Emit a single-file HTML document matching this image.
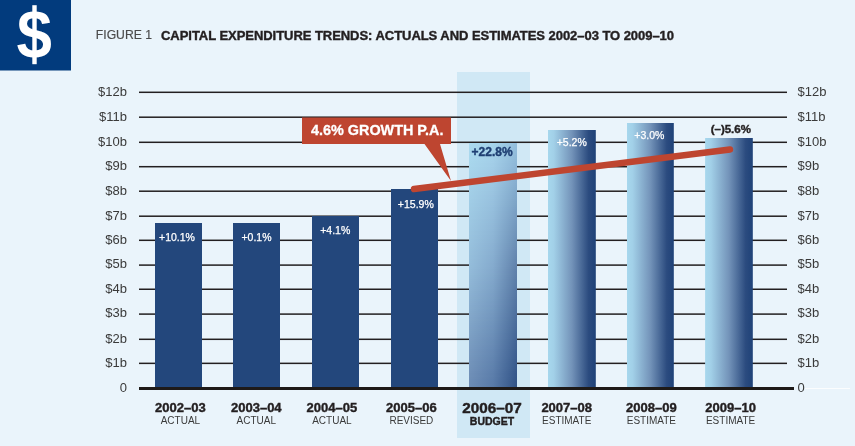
<!DOCTYPE html>
<html><head><meta charset="utf-8"><style>
html,body{margin:0;padding:0;background:#eaf4fb;width:855px;height:446px;overflow:hidden}
svg{display:block;will-change:transform}
text{font-family:"Liberation Sans",sans-serif}
</style></head><body>
<svg width="855" height="446" viewBox="0 0 855 446">
<rect x="0" y="0" width="855" height="446" fill="#eaf4fb"/>
<rect x="0" y="0" width="71" height="70.5" fill="#023b7d"/>
<rect x="457" y="72" width="73" height="366" fill="#d0e8f5"/>
<rect x="139" y="362.60" width="648" height="1.5" fill="#231f20"/>
<rect x="139" y="338.55" width="648" height="1.5" fill="#231f20"/>
<rect x="139" y="313.35" width="648" height="1.5" fill="#231f20"/>
<rect x="139" y="288.50" width="648" height="1.5" fill="#231f20"/>
<rect x="139" y="264.35" width="648" height="1.5" fill="#231f20"/>
<rect x="139" y="239.55" width="648" height="1.5" fill="#231f20"/>
<rect x="139" y="215.45" width="648" height="1.5" fill="#231f20"/>
<rect x="139" y="190.45" width="648" height="1.5" fill="#231f20"/>
<rect x="139" y="165.95" width="648" height="1.5" fill="#231f20"/>
<rect x="139" y="141.55" width="648" height="1.5" fill="#231f20"/>
<rect x="139" y="116.45" width="648" height="1.5" fill="#231f20"/>
<rect x="139" y="91.55" width="648" height="1.5" fill="#231f20"/>
<defs><linearGradient id="gh" x1="0" y1="0" x2="1" y2="0"><stop offset="0" stop-color="#a7d7ed"/><stop offset="0.12" stop-color="#a2d0e8"/><stop offset="0.5" stop-color="#7393b9"/><stop offset="0.85" stop-color="#2b4b7f"/><stop offset="1" stop-color="#1f4278"/></linearGradient><linearGradient id="gd" gradientUnits="userSpaceOnUse" x1="469" y1="150" x2="540" y2="388"><stop offset="0" stop-color="#a8d8ee"/><stop offset="0.45" stop-color="#86aed3"/><stop offset="1" stop-color="#3a5b8e"/></linearGradient></defs>
<rect x="155" y="223" width="47" height="164.5" fill="#23477c"/>
<rect x="233" y="223" width="47" height="164.5" fill="#23477c"/>
<rect x="312" y="216" width="47" height="171.5" fill="#23477c"/>
<rect x="391" y="189" width="47" height="198.5" fill="#23477c"/>
<rect x="548" y="130" width="47.8" height="257.5" fill="url(#gh)"/>
<rect x="627" y="123" width="46.8" height="264.5" fill="url(#gh)"/>
<rect x="705.1" y="138" width="47.7" height="249.5" fill="url(#gh)"/>
<rect x="469.2" y="143" width="47.7" height="2" fill="url(#s5_0)" shape-rendering="crispEdges"/>
<rect x="469.2" y="145" width="47.7" height="2" fill="url(#s5_1)" shape-rendering="crispEdges"/>
<rect x="469.2" y="147" width="47.7" height="2" fill="url(#s5_2)" shape-rendering="crispEdges"/>
<rect x="469.2" y="149" width="47.7" height="2" fill="url(#s5_3)" shape-rendering="crispEdges"/>
<rect x="469.2" y="151" width="47.7" height="2" fill="url(#s5_4)" shape-rendering="crispEdges"/>
<rect x="469.2" y="153" width="47.7" height="2" fill="url(#s5_5)" shape-rendering="crispEdges"/>
<rect x="469.2" y="155" width="47.7" height="2" fill="url(#s5_6)" shape-rendering="crispEdges"/>
<rect x="469.2" y="157" width="47.7" height="2" fill="url(#s5_7)" shape-rendering="crispEdges"/>
<rect x="469.2" y="159" width="47.7" height="2" fill="url(#s5_8)" shape-rendering="crispEdges"/>
<rect x="469.2" y="161" width="47.7" height="2" fill="url(#s5_9)" shape-rendering="crispEdges"/>
<rect x="469.2" y="163" width="47.7" height="2" fill="url(#s5_10)" shape-rendering="crispEdges"/>
<rect x="469.2" y="165" width="47.7" height="2" fill="url(#s5_11)" shape-rendering="crispEdges"/>
<rect x="469.2" y="167" width="47.7" height="2" fill="url(#s5_12)" shape-rendering="crispEdges"/>
<rect x="469.2" y="169" width="47.7" height="2" fill="url(#s5_13)" shape-rendering="crispEdges"/>
<rect x="469.2" y="171" width="47.7" height="2" fill="url(#s5_14)" shape-rendering="crispEdges"/>
<rect x="469.2" y="173" width="47.7" height="2" fill="url(#s5_15)" shape-rendering="crispEdges"/>
<rect x="469.2" y="175" width="47.7" height="2" fill="url(#s5_16)" shape-rendering="crispEdges"/>
<rect x="469.2" y="177" width="47.7" height="2" fill="url(#s5_17)" shape-rendering="crispEdges"/>
<rect x="469.2" y="179" width="47.7" height="2" fill="url(#s5_18)" shape-rendering="crispEdges"/>
<rect x="469.2" y="181" width="47.7" height="2" fill="url(#s5_19)" shape-rendering="crispEdges"/>
<rect x="469.2" y="183" width="47.7" height="2" fill="url(#s5_20)" shape-rendering="crispEdges"/>
<rect x="469.2" y="185" width="47.7" height="2" fill="url(#s5_21)" shape-rendering="crispEdges"/>
<rect x="469.2" y="187" width="47.7" height="2" fill="url(#s5_22)" shape-rendering="crispEdges"/>
<rect x="469.2" y="189" width="47.7" height="2" fill="url(#s5_23)" shape-rendering="crispEdges"/>
<rect x="469.2" y="191" width="47.7" height="2" fill="url(#s5_24)" shape-rendering="crispEdges"/>
<rect x="469.2" y="193" width="47.7" height="2" fill="url(#s5_25)" shape-rendering="crispEdges"/>
<rect x="469.2" y="195" width="47.7" height="2" fill="url(#s5_26)" shape-rendering="crispEdges"/>
<rect x="469.2" y="197" width="47.7" height="2" fill="url(#s5_27)" shape-rendering="crispEdges"/>
<rect x="469.2" y="199" width="47.7" height="2" fill="url(#s5_28)" shape-rendering="crispEdges"/>
<rect x="469.2" y="201" width="47.7" height="2" fill="url(#s5_29)" shape-rendering="crispEdges"/>
<rect x="469.2" y="203" width="47.7" height="2" fill="url(#s5_30)" shape-rendering="crispEdges"/>
<rect x="469.2" y="205" width="47.7" height="2" fill="url(#s5_31)" shape-rendering="crispEdges"/>
<rect x="469.2" y="207" width="47.7" height="2" fill="url(#s5_32)" shape-rendering="crispEdges"/>
<rect x="469.2" y="209" width="47.7" height="2" fill="url(#s5_33)" shape-rendering="crispEdges"/>
<rect x="469.2" y="211" width="47.7" height="2" fill="url(#s5_34)" shape-rendering="crispEdges"/>
<rect x="469.2" y="213" width="47.7" height="2" fill="url(#s5_35)" shape-rendering="crispEdges"/>
<rect x="469.2" y="215" width="47.7" height="2" fill="url(#s5_36)" shape-rendering="crispEdges"/>
<rect x="469.2" y="217" width="47.7" height="2" fill="url(#s5_37)" shape-rendering="crispEdges"/>
<rect x="469.2" y="219" width="47.7" height="2" fill="url(#s5_38)" shape-rendering="crispEdges"/>
<rect x="469.2" y="221" width="47.7" height="2" fill="url(#s5_39)" shape-rendering="crispEdges"/>
<rect x="469.2" y="223" width="47.7" height="2" fill="url(#s5_40)" shape-rendering="crispEdges"/>
<rect x="469.2" y="225" width="47.7" height="2" fill="url(#s5_41)" shape-rendering="crispEdges"/>
<rect x="469.2" y="227" width="47.7" height="2" fill="url(#s5_42)" shape-rendering="crispEdges"/>
<rect x="469.2" y="229" width="47.7" height="2" fill="url(#s5_43)" shape-rendering="crispEdges"/>
<rect x="469.2" y="231" width="47.7" height="2" fill="url(#s5_44)" shape-rendering="crispEdges"/>
<rect x="469.2" y="233" width="47.7" height="2" fill="url(#s5_45)" shape-rendering="crispEdges"/>
<rect x="469.2" y="235" width="47.7" height="2" fill="url(#s5_46)" shape-rendering="crispEdges"/>
<rect x="469.2" y="237" width="47.7" height="2" fill="url(#s5_47)" shape-rendering="crispEdges"/>
<rect x="469.2" y="239" width="47.7" height="2" fill="url(#s5_48)" shape-rendering="crispEdges"/>
<rect x="469.2" y="241" width="47.7" height="2" fill="url(#s5_49)" shape-rendering="crispEdges"/>
<rect x="469.2" y="243" width="47.7" height="2" fill="url(#s5_50)" shape-rendering="crispEdges"/>
<rect x="469.2" y="245" width="47.7" height="2" fill="url(#s5_51)" shape-rendering="crispEdges"/>
<rect x="469.2" y="247" width="47.7" height="2" fill="url(#s5_52)" shape-rendering="crispEdges"/>
<rect x="469.2" y="249" width="47.7" height="2" fill="url(#s5_53)" shape-rendering="crispEdges"/>
<rect x="469.2" y="251" width="47.7" height="2" fill="url(#s5_54)" shape-rendering="crispEdges"/>
<rect x="469.2" y="253" width="47.7" height="2" fill="url(#s5_55)" shape-rendering="crispEdges"/>
<rect x="469.2" y="255" width="47.7" height="2" fill="url(#s5_56)" shape-rendering="crispEdges"/>
<rect x="469.2" y="257" width="47.7" height="2" fill="url(#s5_57)" shape-rendering="crispEdges"/>
<rect x="469.2" y="259" width="47.7" height="2" fill="url(#s5_58)" shape-rendering="crispEdges"/>
<rect x="469.2" y="261" width="47.7" height="2" fill="url(#s5_59)" shape-rendering="crispEdges"/>
<rect x="469.2" y="263" width="47.7" height="2" fill="url(#s5_60)" shape-rendering="crispEdges"/>
<rect x="469.2" y="265" width="47.7" height="2" fill="url(#s5_61)" shape-rendering="crispEdges"/>
<rect x="469.2" y="267" width="47.7" height="2" fill="url(#s5_62)" shape-rendering="crispEdges"/>
<rect x="469.2" y="269" width="47.7" height="2" fill="url(#s5_63)" shape-rendering="crispEdges"/>
<rect x="469.2" y="271" width="47.7" height="2" fill="url(#s5_64)" shape-rendering="crispEdges"/>
<rect x="469.2" y="273" width="47.7" height="2" fill="url(#s5_65)" shape-rendering="crispEdges"/>
<rect x="469.2" y="275" width="47.7" height="2" fill="url(#s5_66)" shape-rendering="crispEdges"/>
<rect x="469.2" y="277" width="47.7" height="2" fill="url(#s5_67)" shape-rendering="crispEdges"/>
<rect x="469.2" y="279" width="47.7" height="2" fill="url(#s5_68)" shape-rendering="crispEdges"/>
<rect x="469.2" y="281" width="47.7" height="2" fill="url(#s5_69)" shape-rendering="crispEdges"/>
<rect x="469.2" y="283" width="47.7" height="2" fill="url(#s5_70)" shape-rendering="crispEdges"/>
<rect x="469.2" y="285" width="47.7" height="2" fill="url(#s5_71)" shape-rendering="crispEdges"/>
<rect x="469.2" y="287" width="47.7" height="2" fill="url(#s5_72)" shape-rendering="crispEdges"/>
<rect x="469.2" y="289" width="47.7" height="2" fill="url(#s5_73)" shape-rendering="crispEdges"/>
<rect x="469.2" y="291" width="47.7" height="2" fill="url(#s5_74)" shape-rendering="crispEdges"/>
<rect x="469.2" y="293" width="47.7" height="2" fill="url(#s5_75)" shape-rendering="crispEdges"/>
<rect x="469.2" y="295" width="47.7" height="2" fill="url(#s5_76)" shape-rendering="crispEdges"/>
<rect x="469.2" y="297" width="47.7" height="2" fill="url(#s5_77)" shape-rendering="crispEdges"/>
<rect x="469.2" y="299" width="47.7" height="2" fill="url(#s5_78)" shape-rendering="crispEdges"/>
<rect x="469.2" y="301" width="47.7" height="2" fill="url(#s5_79)" shape-rendering="crispEdges"/>
<rect x="469.2" y="303" width="47.7" height="2" fill="url(#s5_80)" shape-rendering="crispEdges"/>
<rect x="469.2" y="305" width="47.7" height="2" fill="url(#s5_81)" shape-rendering="crispEdges"/>
<rect x="469.2" y="307" width="47.7" height="2" fill="url(#s5_82)" shape-rendering="crispEdges"/>
<rect x="469.2" y="309" width="47.7" height="2" fill="url(#s5_83)" shape-rendering="crispEdges"/>
<rect x="469.2" y="311" width="47.7" height="2" fill="url(#s5_84)" shape-rendering="crispEdges"/>
<rect x="469.2" y="313" width="47.7" height="2" fill="url(#s5_85)" shape-rendering="crispEdges"/>
<rect x="469.2" y="315" width="47.7" height="2" fill="url(#s5_86)" shape-rendering="crispEdges"/>
<rect x="469.2" y="317" width="47.7" height="2" fill="url(#s5_87)" shape-rendering="crispEdges"/>
<rect x="469.2" y="319" width="47.7" height="2" fill="url(#s5_88)" shape-rendering="crispEdges"/>
<rect x="469.2" y="321" width="47.7" height="2" fill="url(#s5_89)" shape-rendering="crispEdges"/>
<rect x="469.2" y="323" width="47.7" height="2" fill="url(#s5_90)" shape-rendering="crispEdges"/>
<rect x="469.2" y="325" width="47.7" height="2" fill="url(#s5_91)" shape-rendering="crispEdges"/>
<rect x="469.2" y="327" width="47.7" height="2" fill="url(#s5_92)" shape-rendering="crispEdges"/>
<rect x="469.2" y="329" width="47.7" height="2" fill="url(#s5_93)" shape-rendering="crispEdges"/>
<rect x="469.2" y="331" width="47.7" height="2" fill="url(#s5_94)" shape-rendering="crispEdges"/>
<rect x="469.2" y="333" width="47.7" height="2" fill="url(#s5_95)" shape-rendering="crispEdges"/>
<rect x="469.2" y="335" width="47.7" height="2" fill="url(#s5_96)" shape-rendering="crispEdges"/>
<rect x="469.2" y="337" width="47.7" height="2" fill="url(#s5_97)" shape-rendering="crispEdges"/>
<rect x="469.2" y="339" width="47.7" height="2" fill="url(#s5_98)" shape-rendering="crispEdges"/>
<rect x="469.2" y="341" width="47.7" height="2" fill="url(#s5_99)" shape-rendering="crispEdges"/>
<rect x="469.2" y="343" width="47.7" height="2" fill="url(#s5_100)" shape-rendering="crispEdges"/>
<rect x="469.2" y="345" width="47.7" height="2" fill="url(#s5_101)" shape-rendering="crispEdges"/>
<rect x="469.2" y="347" width="47.7" height="2" fill="url(#s5_102)" shape-rendering="crispEdges"/>
<rect x="469.2" y="349" width="47.7" height="2" fill="url(#s5_103)" shape-rendering="crispEdges"/>
<rect x="469.2" y="351" width="47.7" height="2" fill="url(#s5_104)" shape-rendering="crispEdges"/>
<rect x="469.2" y="353" width="47.7" height="2" fill="url(#s5_105)" shape-rendering="crispEdges"/>
<rect x="469.2" y="355" width="47.7" height="2" fill="url(#s5_106)" shape-rendering="crispEdges"/>
<rect x="469.2" y="357" width="47.7" height="2" fill="url(#s5_107)" shape-rendering="crispEdges"/>
<rect x="469.2" y="359" width="47.7" height="2" fill="url(#s5_108)" shape-rendering="crispEdges"/>
<rect x="469.2" y="361" width="47.7" height="2" fill="url(#s5_109)" shape-rendering="crispEdges"/>
<rect x="469.2" y="363" width="47.7" height="2" fill="url(#s5_110)" shape-rendering="crispEdges"/>
<rect x="469.2" y="365" width="47.7" height="2" fill="url(#s5_111)" shape-rendering="crispEdges"/>
<rect x="469.2" y="367" width="47.7" height="2" fill="url(#s5_112)" shape-rendering="crispEdges"/>
<rect x="469.2" y="369" width="47.7" height="2" fill="url(#s5_113)" shape-rendering="crispEdges"/>
<rect x="469.2" y="371" width="47.7" height="2" fill="url(#s5_114)" shape-rendering="crispEdges"/>
<rect x="469.2" y="373" width="47.7" height="2" fill="url(#s5_115)" shape-rendering="crispEdges"/>
<rect x="469.2" y="375" width="47.7" height="2" fill="url(#s5_116)" shape-rendering="crispEdges"/>
<rect x="469.2" y="377" width="47.7" height="2" fill="url(#s5_117)" shape-rendering="crispEdges"/>
<rect x="469.2" y="379" width="47.7" height="2" fill="url(#s5_118)" shape-rendering="crispEdges"/>
<rect x="469.2" y="381" width="47.7" height="2" fill="url(#s5_119)" shape-rendering="crispEdges"/>
<rect x="469.2" y="383" width="47.7" height="2" fill="url(#s5_120)" shape-rendering="crispEdges"/>
<rect x="469.2" y="385" width="47.7" height="2" fill="url(#s5_121)" shape-rendering="crispEdges"/>
<rect x="469.2" y="387" width="47.7" height="2" fill="url(#s5_122)" shape-rendering="crispEdges"/>
<defs><linearGradient id="s5_0" x1="0" y1="0" x2="1" y2="0"><stop offset="0" stop-color="#abdaef"/><stop offset="0.5" stop-color="#a6d4eb"/><stop offset="1" stop-color="#93bedc"/></linearGradient><linearGradient id="s5_1" x1="0" y1="0" x2="1" y2="0"><stop offset="0" stop-color="#abd9ef"/><stop offset="0.5" stop-color="#a5d3ea"/><stop offset="1" stop-color="#92bddb"/></linearGradient><linearGradient id="s5_2" x1="0" y1="0" x2="1" y2="0"><stop offset="0" stop-color="#aad9ee"/><stop offset="0.5" stop-color="#a5d2ea"/><stop offset="1" stop-color="#91bcdb"/></linearGradient><linearGradient id="s5_3" x1="0" y1="0" x2="1" y2="0"><stop offset="0" stop-color="#aad9ee"/><stop offset="0.5" stop-color="#a5d2ea"/><stop offset="1" stop-color="#91bbda"/></linearGradient><linearGradient id="s5_4" x1="0" y1="0" x2="1" y2="0"><stop offset="0" stop-color="#aad8ee"/><stop offset="0.5" stop-color="#a4d1e9"/><stop offset="1" stop-color="#90bbda"/></linearGradient><linearGradient id="s5_5" x1="0" y1="0" x2="1" y2="0"><stop offset="0" stop-color="#aad8ee"/><stop offset="0.5" stop-color="#a4d0e9"/><stop offset="1" stop-color="#90bad9"/></linearGradient><linearGradient id="s5_6" x1="0" y1="0" x2="1" y2="0"><stop offset="0" stop-color="#a9d8ed"/><stop offset="0.5" stop-color="#a4d0e9"/><stop offset="1" stop-color="#8fb9d8"/></linearGradient><linearGradient id="s5_7" x1="0" y1="0" x2="1" y2="0"><stop offset="0" stop-color="#a9d7ed"/><stop offset="0.5" stop-color="#a3cfe8"/><stop offset="1" stop-color="#8eb9d8"/></linearGradient><linearGradient id="s5_8" x1="0" y1="0" x2="1" y2="0"><stop offset="0" stop-color="#a9d7ed"/><stop offset="0.5" stop-color="#a3cfe8"/><stop offset="1" stop-color="#8eb8d7"/></linearGradient><linearGradient id="s5_9" x1="0" y1="0" x2="1" y2="0"><stop offset="0" stop-color="#a8d7ec"/><stop offset="0.5" stop-color="#a3cee8"/><stop offset="1" stop-color="#8db7d7"/></linearGradient><linearGradient id="s5_10" x1="0" y1="0" x2="1" y2="0"><stop offset="0" stop-color="#a8d6ec"/><stop offset="0.5" stop-color="#a2cde7"/><stop offset="1" stop-color="#8cb6d6"/></linearGradient><linearGradient id="s5_11" x1="0" y1="0" x2="1" y2="0"><stop offset="0" stop-color="#a8d6ec"/><stop offset="0.5" stop-color="#a2cde7"/><stop offset="1" stop-color="#8cb5d6"/></linearGradient><linearGradient id="s5_12" x1="0" y1="0" x2="1" y2="0"><stop offset="0" stop-color="#a7d5eb"/><stop offset="0.5" stop-color="#a1cce6"/><stop offset="1" stop-color="#8bb4d5"/></linearGradient><linearGradient id="s5_13" x1="0" y1="0" x2="1" y2="0"><stop offset="0" stop-color="#a7d5eb"/><stop offset="0.5" stop-color="#a1cbe6"/><stop offset="1" stop-color="#8ab3d4"/></linearGradient><linearGradient id="s5_14" x1="0" y1="0" x2="1" y2="0"><stop offset="0" stop-color="#a7d4eb"/><stop offset="0.5" stop-color="#a0cbe5"/><stop offset="1" stop-color="#89b2d3"/></linearGradient><linearGradient id="s5_15" x1="0" y1="0" x2="1" y2="0"><stop offset="0" stop-color="#a6d4ea"/><stop offset="0.5" stop-color="#9fcae5"/><stop offset="1" stop-color="#88b1d2"/></linearGradient><linearGradient id="s5_16" x1="0" y1="0" x2="1" y2="0"><stop offset="0" stop-color="#a6d3ea"/><stop offset="0.5" stop-color="#9fc9e4"/><stop offset="1" stop-color="#87b0d1"/></linearGradient><linearGradient id="s5_17" x1="0" y1="0" x2="1" y2="0"><stop offset="0" stop-color="#a5d3ea"/><stop offset="0.5" stop-color="#9ec9e4"/><stop offset="1" stop-color="#86afd0"/></linearGradient><linearGradient id="s5_18" x1="0" y1="0" x2="1" y2="0"><stop offset="0" stop-color="#a5d2e9"/><stop offset="0.5" stop-color="#9ec8e3"/><stop offset="1" stop-color="#85aed0"/></linearGradient><linearGradient id="s5_19" x1="0" y1="0" x2="1" y2="0"><stop offset="0" stop-color="#a5d2e9"/><stop offset="0.5" stop-color="#9dc7e3"/><stop offset="1" stop-color="#85adcf"/></linearGradient><linearGradient id="s5_20" x1="0" y1="0" x2="1" y2="0"><stop offset="0" stop-color="#a4d1e9"/><stop offset="0.5" stop-color="#9cc7e2"/><stop offset="1" stop-color="#84acce"/></linearGradient><linearGradient id="s5_21" x1="0" y1="0" x2="1" y2="0"><stop offset="0" stop-color="#a4d1e8"/><stop offset="0.5" stop-color="#9cc6e2"/><stop offset="1" stop-color="#83abcd"/></linearGradient><linearGradient id="s5_22" x1="0" y1="0" x2="1" y2="0"><stop offset="0" stop-color="#a4d0e8"/><stop offset="0.5" stop-color="#9bc5e1"/><stop offset="1" stop-color="#82aacc"/></linearGradient><linearGradient id="s5_23" x1="0" y1="0" x2="1" y2="0"><stop offset="0" stop-color="#a3d0e8"/><stop offset="0.5" stop-color="#9bc5e1"/><stop offset="1" stop-color="#81a9cb"/></linearGradient><linearGradient id="s5_24" x1="0" y1="0" x2="1" y2="0"><stop offset="0" stop-color="#a3cfe7"/><stop offset="0.5" stop-color="#9ac4e0"/><stop offset="1" stop-color="#80a8ca"/></linearGradient><linearGradient id="s5_25" x1="0" y1="0" x2="1" y2="0"><stop offset="0" stop-color="#a2cfe7"/><stop offset="0.5" stop-color="#9ac3e0"/><stop offset="1" stop-color="#7fa7ca"/></linearGradient><linearGradient id="s5_26" x1="0" y1="0" x2="1" y2="0"><stop offset="0" stop-color="#a2cee7"/><stop offset="0.5" stop-color="#99c2df"/><stop offset="1" stop-color="#7ea6c9"/></linearGradient><linearGradient id="s5_27" x1="0" y1="0" x2="1" y2="0"><stop offset="0" stop-color="#a2cee6"/><stop offset="0.5" stop-color="#98c2df"/><stop offset="1" stop-color="#7ea5c8"/></linearGradient><linearGradient id="s5_28" x1="0" y1="0" x2="1" y2="0"><stop offset="0" stop-color="#a1cde6"/><stop offset="0.5" stop-color="#98c1de"/><stop offset="1" stop-color="#7da4c7"/></linearGradient><linearGradient id="s5_29" x1="0" y1="0" x2="1" y2="0"><stop offset="0" stop-color="#a1cde6"/><stop offset="0.5" stop-color="#97c0de"/><stop offset="1" stop-color="#7ca3c6"/></linearGradient><linearGradient id="s5_30" x1="0" y1="0" x2="1" y2="0"><stop offset="0" stop-color="#a0cce5"/><stop offset="0.5" stop-color="#97c0dd"/><stop offset="1" stop-color="#7ba2c5"/></linearGradient><linearGradient id="s5_31" x1="0" y1="0" x2="1" y2="0"><stop offset="0" stop-color="#a0cce5"/><stop offset="0.5" stop-color="#96bfdd"/><stop offset="1" stop-color="#7aa1c4"/></linearGradient><linearGradient id="s5_32" x1="0" y1="0" x2="1" y2="0"><stop offset="0" stop-color="#a0cbe4"/><stop offset="0.5" stop-color="#95bedc"/><stop offset="1" stop-color="#799fc4"/></linearGradient><linearGradient id="s5_33" x1="0" y1="0" x2="1" y2="0"><stop offset="0" stop-color="#9fcbe4"/><stop offset="0.5" stop-color="#95bedc"/><stop offset="1" stop-color="#789ec3"/></linearGradient><linearGradient id="s5_34" x1="0" y1="0" x2="1" y2="0"><stop offset="0" stop-color="#9fcae4"/><stop offset="0.5" stop-color="#94bddb"/><stop offset="1" stop-color="#779dc2"/></linearGradient><linearGradient id="s5_35" x1="0" y1="0" x2="1" y2="0"><stop offset="0" stop-color="#9ecae3"/><stop offset="0.5" stop-color="#94bcdb"/><stop offset="1" stop-color="#779cc1"/></linearGradient><linearGradient id="s5_36" x1="0" y1="0" x2="1" y2="0"><stop offset="0" stop-color="#9ec9e3"/><stop offset="0.5" stop-color="#93bcda"/><stop offset="1" stop-color="#769bc0"/></linearGradient><linearGradient id="s5_37" x1="0" y1="0" x2="1" y2="0"><stop offset="0" stop-color="#9ec9e3"/><stop offset="0.5" stop-color="#93bbda"/><stop offset="1" stop-color="#759abf"/></linearGradient><linearGradient id="s5_38" x1="0" y1="0" x2="1" y2="0"><stop offset="0" stop-color="#9dc8e2"/><stop offset="0.5" stop-color="#92bad9"/><stop offset="1" stop-color="#7499bf"/></linearGradient><linearGradient id="s5_39" x1="0" y1="0" x2="1" y2="0"><stop offset="0" stop-color="#9dc8e2"/><stop offset="0.5" stop-color="#91bad9"/><stop offset="1" stop-color="#7398be"/></linearGradient><linearGradient id="s5_40" x1="0" y1="0" x2="1" y2="0"><stop offset="0" stop-color="#9dc7e2"/><stop offset="0.5" stop-color="#91b9d8"/><stop offset="1" stop-color="#7297bd"/></linearGradient><linearGradient id="s5_41" x1="0" y1="0" x2="1" y2="0"><stop offset="0" stop-color="#9cc7e1"/><stop offset="0.5" stop-color="#90b8d8"/><stop offset="1" stop-color="#7196bc"/></linearGradient><linearGradient id="s5_42" x1="0" y1="0" x2="1" y2="0"><stop offset="0" stop-color="#9cc6e1"/><stop offset="0.5" stop-color="#90b8d7"/><stop offset="1" stop-color="#7095bb"/></linearGradient><linearGradient id="s5_43" x1="0" y1="0" x2="1" y2="0"><stop offset="0" stop-color="#9bc6e1"/><stop offset="0.5" stop-color="#8fb7d7"/><stop offset="1" stop-color="#7094ba"/></linearGradient><linearGradient id="s5_44" x1="0" y1="0" x2="1" y2="0"><stop offset="0" stop-color="#9bc5e0"/><stop offset="0.5" stop-color="#8eb6d6"/><stop offset="1" stop-color="#6f93b9"/></linearGradient><linearGradient id="s5_45" x1="0" y1="0" x2="1" y2="0"><stop offset="0" stop-color="#9bc5e0"/><stop offset="0.5" stop-color="#8eb6d6"/><stop offset="1" stop-color="#6e92b9"/></linearGradient><linearGradient id="s5_46" x1="0" y1="0" x2="1" y2="0"><stop offset="0" stop-color="#9ac4e0"/><stop offset="0.5" stop-color="#8db5d5"/><stop offset="1" stop-color="#6d91b8"/></linearGradient><linearGradient id="s5_47" x1="0" y1="0" x2="1" y2="0"><stop offset="0" stop-color="#9ac4df"/><stop offset="0.5" stop-color="#8db4d5"/><stop offset="1" stop-color="#6c90b7"/></linearGradient><linearGradient id="s5_48" x1="0" y1="0" x2="1" y2="0"><stop offset="0" stop-color="#99c3df"/><stop offset="0.5" stop-color="#8cb4d4"/><stop offset="1" stop-color="#6b8fb6"/></linearGradient><linearGradient id="s5_49" x1="0" y1="0" x2="1" y2="0"><stop offset="0" stop-color="#99c3df"/><stop offset="0.5" stop-color="#8cb3d4"/><stop offset="1" stop-color="#6a8eb5"/></linearGradient><linearGradient id="s5_50" x1="0" y1="0" x2="1" y2="0"><stop offset="0" stop-color="#99c2de"/><stop offset="0.5" stop-color="#8bb2d3"/><stop offset="1" stop-color="#698db4"/></linearGradient><linearGradient id="s5_51" x1="0" y1="0" x2="1" y2="0"><stop offset="0" stop-color="#98c2de"/><stop offset="0.5" stop-color="#8ab1d3"/><stop offset="1" stop-color="#698cb3"/></linearGradient><linearGradient id="s5_52" x1="0" y1="0" x2="1" y2="0"><stop offset="0" stop-color="#98c1dd"/><stop offset="0.5" stop-color="#8ab1d2"/><stop offset="1" stop-color="#688ab3"/></linearGradient><linearGradient id="s5_53" x1="0" y1="0" x2="1" y2="0"><stop offset="0" stop-color="#97c1dd"/><stop offset="0.5" stop-color="#89b0d2"/><stop offset="1" stop-color="#6789b2"/></linearGradient><linearGradient id="s5_54" x1="0" y1="0" x2="1" y2="0"><stop offset="0" stop-color="#97c0dd"/><stop offset="0.5" stop-color="#89afd1"/><stop offset="1" stop-color="#6688b1"/></linearGradient><linearGradient id="s5_55" x1="0" y1="0" x2="1" y2="0"><stop offset="0" stop-color="#97c0dc"/><stop offset="0.5" stop-color="#88afd1"/><stop offset="1" stop-color="#6587b0"/></linearGradient><linearGradient id="s5_56" x1="0" y1="0" x2="1" y2="0"><stop offset="0" stop-color="#96bfdc"/><stop offset="0.5" stop-color="#87aed0"/><stop offset="1" stop-color="#6486af"/></linearGradient><linearGradient id="s5_57" x1="0" y1="0" x2="1" y2="0"><stop offset="0" stop-color="#96bfdc"/><stop offset="0.5" stop-color="#87add0"/><stop offset="1" stop-color="#6385ae"/></linearGradient><linearGradient id="s5_58" x1="0" y1="0" x2="1" y2="0"><stop offset="0" stop-color="#96bedb"/><stop offset="0.5" stop-color="#86adcf"/><stop offset="1" stop-color="#6284ad"/></linearGradient><linearGradient id="s5_59" x1="0" y1="0" x2="1" y2="0"><stop offset="0" stop-color="#95bedb"/><stop offset="0.5" stop-color="#86accf"/><stop offset="1" stop-color="#6283ad"/></linearGradient><linearGradient id="s5_60" x1="0" y1="0" x2="1" y2="0"><stop offset="0" stop-color="#95bddb"/><stop offset="0.5" stop-color="#85abce"/><stop offset="1" stop-color="#6182ac"/></linearGradient><linearGradient id="s5_61" x1="0" y1="0" x2="1" y2="0"><stop offset="0" stop-color="#94bdda"/><stop offset="0.5" stop-color="#85abce"/><stop offset="1" stop-color="#6081ab"/></linearGradient><linearGradient id="s5_62" x1="0" y1="0" x2="1" y2="0"><stop offset="0" stop-color="#94bcda"/><stop offset="0.5" stop-color="#84aacd"/><stop offset="1" stop-color="#5f80aa"/></linearGradient><linearGradient id="s5_63" x1="0" y1="0" x2="1" y2="0"><stop offset="0" stop-color="#93bbd9"/><stop offset="0.5" stop-color="#83a9cc"/><stop offset="1" stop-color="#5e7fa9"/></linearGradient><linearGradient id="s5_64" x1="0" y1="0" x2="1" y2="0"><stop offset="0" stop-color="#93bad9"/><stop offset="0.5" stop-color="#83a8cc"/><stop offset="1" stop-color="#5d7ea9"/></linearGradient><linearGradient id="s5_65" x1="0" y1="0" x2="1" y2="0"><stop offset="0" stop-color="#92bad8"/><stop offset="0.5" stop-color="#82a8cb"/><stop offset="1" stop-color="#5d7ea8"/></linearGradient><linearGradient id="s5_66" x1="0" y1="0" x2="1" y2="0"><stop offset="0" stop-color="#91b9d7"/><stop offset="0.5" stop-color="#81a7ca"/><stop offset="1" stop-color="#5c7da8"/></linearGradient><linearGradient id="s5_67" x1="0" y1="0" x2="1" y2="0"><stop offset="0" stop-color="#91b8d7"/><stop offset="0.5" stop-color="#80a6ca"/><stop offset="1" stop-color="#5b7ca7"/></linearGradient><linearGradient id="s5_68" x1="0" y1="0" x2="1" y2="0"><stop offset="0" stop-color="#90b7d6"/><stop offset="0.5" stop-color="#80a5c9"/><stop offset="1" stop-color="#5a7ba6"/></linearGradient><linearGradient id="s5_69" x1="0" y1="0" x2="1" y2="0"><stop offset="0" stop-color="#8fb6d6"/><stop offset="0.5" stop-color="#7fa4c9"/><stop offset="1" stop-color="#597ba6"/></linearGradient><linearGradient id="s5_70" x1="0" y1="0" x2="1" y2="0"><stop offset="0" stop-color="#8fb5d5"/><stop offset="0.5" stop-color="#7ea3c8"/><stop offset="1" stop-color="#597aa5"/></linearGradient><linearGradient id="s5_71" x1="0" y1="0" x2="1" y2="0"><stop offset="0" stop-color="#8eb5d4"/><stop offset="0.5" stop-color="#7da3c7"/><stop offset="1" stop-color="#5879a5"/></linearGradient><linearGradient id="s5_72" x1="0" y1="0" x2="1" y2="0"><stop offset="0" stop-color="#8db4d4"/><stop offset="0.5" stop-color="#7da2c7"/><stop offset="1" stop-color="#5778a4"/></linearGradient><linearGradient id="s5_73" x1="0" y1="0" x2="1" y2="0"><stop offset="0" stop-color="#8db3d3"/><stop offset="0.5" stop-color="#7ca1c6"/><stop offset="1" stop-color="#5677a3"/></linearGradient><linearGradient id="s5_74" x1="0" y1="0" x2="1" y2="0"><stop offset="0" stop-color="#8cb2d2"/><stop offset="0.5" stop-color="#7ba0c5"/><stop offset="1" stop-color="#5577a3"/></linearGradient><linearGradient id="s5_75" x1="0" y1="0" x2="1" y2="0"><stop offset="0" stop-color="#8bb1d2"/><stop offset="0.5" stop-color="#7a9fc5"/><stop offset="1" stop-color="#5576a2"/></linearGradient><linearGradient id="s5_76" x1="0" y1="0" x2="1" y2="0"><stop offset="0" stop-color="#8bb0d1"/><stop offset="0.5" stop-color="#7a9ec4"/><stop offset="1" stop-color="#5475a2"/></linearGradient><linearGradient id="s5_77" x1="0" y1="0" x2="1" y2="0"><stop offset="0" stop-color="#8ab0d0"/><stop offset="0.5" stop-color="#799ec3"/><stop offset="1" stop-color="#5374a1"/></linearGradient><linearGradient id="s5_78" x1="0" y1="0" x2="1" y2="0"><stop offset="0" stop-color="#89afd0"/><stop offset="0.5" stop-color="#789dc3"/><stop offset="1" stop-color="#5273a0"/></linearGradient><linearGradient id="s5_79" x1="0" y1="0" x2="1" y2="0"><stop offset="0" stop-color="#89aecf"/><stop offset="0.5" stop-color="#779cc2"/><stop offset="1" stop-color="#5173a0"/></linearGradient><linearGradient id="s5_80" x1="0" y1="0" x2="1" y2="0"><stop offset="0" stop-color="#88adcf"/><stop offset="0.5" stop-color="#779bc2"/><stop offset="1" stop-color="#51729f"/></linearGradient><linearGradient id="s5_81" x1="0" y1="0" x2="1" y2="0"><stop offset="0" stop-color="#87acce"/><stop offset="0.5" stop-color="#769ac1"/><stop offset="1" stop-color="#50719f"/></linearGradient><linearGradient id="s5_82" x1="0" y1="0" x2="1" y2="0"><stop offset="0" stop-color="#87accd"/><stop offset="0.5" stop-color="#759ac0"/><stop offset="1" stop-color="#4f709e"/></linearGradient><linearGradient id="s5_83" x1="0" y1="0" x2="1" y2="0"><stop offset="0" stop-color="#86abcd"/><stop offset="0.5" stop-color="#7499c0"/><stop offset="1" stop-color="#4e709d"/></linearGradient><linearGradient id="s5_84" x1="0" y1="0" x2="1" y2="0"><stop offset="0" stop-color="#85aacc"/><stop offset="0.5" stop-color="#7498bf"/><stop offset="1" stop-color="#4d6f9d"/></linearGradient><linearGradient id="s5_85" x1="0" y1="0" x2="1" y2="0"><stop offset="0" stop-color="#85a9cb"/><stop offset="0.5" stop-color="#7397be"/><stop offset="1" stop-color="#4d6e9c"/></linearGradient><linearGradient id="s5_86" x1="0" y1="0" x2="1" y2="0"><stop offset="0" stop-color="#84a8cb"/><stop offset="0.5" stop-color="#7296be"/><stop offset="1" stop-color="#4c6d9c"/></linearGradient><linearGradient id="s5_87" x1="0" y1="0" x2="1" y2="0"><stop offset="0" stop-color="#83a7ca"/><stop offset="0.5" stop-color="#7195bd"/><stop offset="1" stop-color="#4b6c9b"/></linearGradient><linearGradient id="s5_88" x1="0" y1="0" x2="1" y2="0"><stop offset="0" stop-color="#83a7c9"/><stop offset="0.5" stop-color="#7195bc"/><stop offset="1" stop-color="#4a6c9a"/></linearGradient><linearGradient id="s5_89" x1="0" y1="0" x2="1" y2="0"><stop offset="0" stop-color="#82a6c9"/><stop offset="0.5" stop-color="#7094bc"/><stop offset="1" stop-color="#496b9a"/></linearGradient><linearGradient id="s5_90" x1="0" y1="0" x2="1" y2="0"><stop offset="0" stop-color="#81a5c8"/><stop offset="0.5" stop-color="#6f93bb"/><stop offset="1" stop-color="#486a99"/></linearGradient><linearGradient id="s5_91" x1="0" y1="0" x2="1" y2="0"><stop offset="0" stop-color="#80a4c8"/><stop offset="0.5" stop-color="#6e92bb"/><stop offset="1" stop-color="#486999"/></linearGradient><linearGradient id="s5_92" x1="0" y1="0" x2="1" y2="0"><stop offset="0" stop-color="#80a3c7"/><stop offset="0.5" stop-color="#6e91ba"/><stop offset="1" stop-color="#476898"/></linearGradient><linearGradient id="s5_93" x1="0" y1="0" x2="1" y2="0"><stop offset="0" stop-color="#7fa3c6"/><stop offset="0.5" stop-color="#6d91b9"/><stop offset="1" stop-color="#466897"/></linearGradient><linearGradient id="s5_94" x1="0" y1="0" x2="1" y2="0"><stop offset="0" stop-color="#7ea2c6"/><stop offset="0.5" stop-color="#6c90b9"/><stop offset="1" stop-color="#456797"/></linearGradient><linearGradient id="s5_95" x1="0" y1="0" x2="1" y2="0"><stop offset="0" stop-color="#7ea1c5"/><stop offset="0.5" stop-color="#6b8fb8"/><stop offset="1" stop-color="#446696"/></linearGradient><linearGradient id="s5_96" x1="0" y1="0" x2="1" y2="0"><stop offset="0" stop-color="#7da0c4"/><stop offset="0.5" stop-color="#6b8eb7"/><stop offset="1" stop-color="#446596"/></linearGradient><linearGradient id="s5_97" x1="0" y1="0" x2="1" y2="0"><stop offset="0" stop-color="#7c9fc4"/><stop offset="0.5" stop-color="#6a8db7"/><stop offset="1" stop-color="#436595"/></linearGradient><linearGradient id="s5_98" x1="0" y1="0" x2="1" y2="0"><stop offset="0" stop-color="#7c9ec3"/><stop offset="0.5" stop-color="#698cb6"/><stop offset="1" stop-color="#426494"/></linearGradient><linearGradient id="s5_99" x1="0" y1="0" x2="1" y2="0"><stop offset="0" stop-color="#7b9ec2"/><stop offset="0.5" stop-color="#688cb5"/><stop offset="1" stop-color="#416394"/></linearGradient><linearGradient id="s5_100" x1="0" y1="0" x2="1" y2="0"><stop offset="0" stop-color="#7a9dc2"/><stop offset="0.5" stop-color="#688bb5"/><stop offset="1" stop-color="#406293"/></linearGradient><linearGradient id="s5_101" x1="0" y1="0" x2="1" y2="0"><stop offset="0" stop-color="#7a9cc1"/><stop offset="0.5" stop-color="#678ab4"/><stop offset="1" stop-color="#406193"/></linearGradient><linearGradient id="s5_102" x1="0" y1="0" x2="1" y2="0"><stop offset="0" stop-color="#799bc1"/><stop offset="0.5" stop-color="#6689b4"/><stop offset="1" stop-color="#3f6192"/></linearGradient><linearGradient id="s5_103" x1="0" y1="0" x2="1" y2="0"><stop offset="0" stop-color="#789ac0"/><stop offset="0.5" stop-color="#6588b3"/><stop offset="1" stop-color="#3e6091"/></linearGradient><linearGradient id="s5_104" x1="0" y1="0" x2="1" y2="0"><stop offset="0" stop-color="#7899bf"/><stop offset="0.5" stop-color="#6587b2"/><stop offset="1" stop-color="#3d5f91"/></linearGradient><linearGradient id="s5_105" x1="0" y1="0" x2="1" y2="0"><stop offset="0" stop-color="#7799bf"/><stop offset="0.5" stop-color="#6487b2"/><stop offset="1" stop-color="#3c5e90"/></linearGradient><linearGradient id="s5_106" x1="0" y1="0" x2="1" y2="0"><stop offset="0" stop-color="#7698be"/><stop offset="0.5" stop-color="#6386b1"/><stop offset="1" stop-color="#3c5d90"/></linearGradient><linearGradient id="s5_107" x1="0" y1="0" x2="1" y2="0"><stop offset="0" stop-color="#7697bd"/><stop offset="0.5" stop-color="#6285b0"/><stop offset="1" stop-color="#3b5d8f"/></linearGradient><linearGradient id="s5_108" x1="0" y1="0" x2="1" y2="0"><stop offset="0" stop-color="#7596bd"/><stop offset="0.5" stop-color="#6284b0"/><stop offset="1" stop-color="#3a5c8e"/></linearGradient><linearGradient id="s5_109" x1="0" y1="0" x2="1" y2="0"><stop offset="0" stop-color="#7495bc"/><stop offset="0.5" stop-color="#6183af"/><stop offset="1" stop-color="#395b8e"/></linearGradient><linearGradient id="s5_110" x1="0" y1="0" x2="1" y2="0"><stop offset="0" stop-color="#7495bb"/><stop offset="0.5" stop-color="#6083ae"/><stop offset="1" stop-color="#385a8d"/></linearGradient><linearGradient id="s5_111" x1="0" y1="0" x2="1" y2="0"><stop offset="0" stop-color="#7394bb"/><stop offset="0.5" stop-color="#5f82ae"/><stop offset="1" stop-color="#385a8d"/></linearGradient><linearGradient id="s5_112" x1="0" y1="0" x2="1" y2="0"><stop offset="0" stop-color="#7293ba"/><stop offset="0.5" stop-color="#5f81ad"/><stop offset="1" stop-color="#37598c"/></linearGradient><linearGradient id="s5_113" x1="0" y1="0" x2="1" y2="0"><stop offset="0" stop-color="#7292ba"/><stop offset="0.5" stop-color="#5e80ad"/><stop offset="1" stop-color="#36588b"/></linearGradient><linearGradient id="s5_114" x1="0" y1="0" x2="1" y2="0"><stop offset="0" stop-color="#7191b9"/><stop offset="0.5" stop-color="#5d7fac"/><stop offset="1" stop-color="#35578b"/></linearGradient><linearGradient id="s5_115" x1="0" y1="0" x2="1" y2="0"><stop offset="0" stop-color="#7090b8"/><stop offset="0.5" stop-color="#5c7eab"/><stop offset="1" stop-color="#34568a"/></linearGradient><linearGradient id="s5_116" x1="0" y1="0" x2="1" y2="0"><stop offset="0" stop-color="#7090b8"/><stop offset="0.5" stop-color="#5c7eab"/><stop offset="1" stop-color="#34568a"/></linearGradient><linearGradient id="s5_117" x1="0" y1="0" x2="1" y2="0"><stop offset="0" stop-color="#6f8fb7"/><stop offset="0.5" stop-color="#5b7daa"/><stop offset="1" stop-color="#335589"/></linearGradient><linearGradient id="s5_118" x1="0" y1="0" x2="1" y2="0"><stop offset="0" stop-color="#6e8eb7"/><stop offset="0.5" stop-color="#5a7caa"/><stop offset="1" stop-color="#335588"/></linearGradient><linearGradient id="s5_119" x1="0" y1="0" x2="1" y2="0"><stop offset="0" stop-color="#6e8eb6"/><stop offset="0.5" stop-color="#5a7ca9"/><stop offset="1" stop-color="#325487"/></linearGradient><linearGradient id="s5_120" x1="0" y1="0" x2="1" y2="0"><stop offset="0" stop-color="#6d8db6"/><stop offset="0.5" stop-color="#597ba9"/><stop offset="1" stop-color="#325487"/></linearGradient><linearGradient id="s5_121" x1="0" y1="0" x2="1" y2="0"><stop offset="0" stop-color="#6d8db5"/><stop offset="0.5" stop-color="#597ba8"/><stop offset="1" stop-color="#315386"/></linearGradient><linearGradient id="s5_122" x1="0" y1="0" x2="1" y2="0"><stop offset="0" stop-color="#6c8cb5"/><stop offset="0.5" stop-color="#587aa8"/><stop offset="1" stop-color="#315385"/></linearGradient></defs>
<rect x="139" y="387" width="655" height="3" fill="#1e1a18"/>
<rect x="805" y="388" width="45" height="1" fill="#ffffff" opacity="0.8"/>
<line x1="414" y1="189" x2="730" y2="149.5" stroke="#be4530" stroke-width="6.4" stroke-linecap="round"/>
<path d="M302 117.5 H451 V144 H440 L451 181 L424.5 144 H302 Z" fill="#be4530"/>
<text x="127" y="391.5" font-size="13" fill="#3a3a3a" font-weight="normal" text-anchor="end" letter-spacing="0">0</text>
<text x="797.5" y="391.5" font-size="13" fill="#3a3a3a" font-weight="normal" text-anchor="start" letter-spacing="0">0</text>
<text x="127" y="366.65" font-size="13" fill="#3a3a3a" font-weight="normal" text-anchor="end" letter-spacing="0">$1b</text>
<text x="797.5" y="366.65" font-size="13" fill="#3a3a3a" font-weight="normal" text-anchor="start" letter-spacing="0">$1b</text>
<text x="127" y="342.59999999999997" font-size="13" fill="#3a3a3a" font-weight="normal" text-anchor="end" letter-spacing="0">$2b</text>
<text x="797.5" y="342.59999999999997" font-size="13" fill="#3a3a3a" font-weight="normal" text-anchor="start" letter-spacing="0">$2b</text>
<text x="127" y="317.4" font-size="13" fill="#3a3a3a" font-weight="normal" text-anchor="end" letter-spacing="0">$3b</text>
<text x="797.5" y="317.4" font-size="13" fill="#3a3a3a" font-weight="normal" text-anchor="start" letter-spacing="0">$3b</text>
<text x="127" y="292.55" font-size="13" fill="#3a3a3a" font-weight="normal" text-anchor="end" letter-spacing="0">$4b</text>
<text x="797.5" y="292.55" font-size="13" fill="#3a3a3a" font-weight="normal" text-anchor="start" letter-spacing="0">$4b</text>
<text x="127" y="268.4" font-size="13" fill="#3a3a3a" font-weight="normal" text-anchor="end" letter-spacing="0">$5b</text>
<text x="797.5" y="268.4" font-size="13" fill="#3a3a3a" font-weight="normal" text-anchor="start" letter-spacing="0">$5b</text>
<text x="127" y="243.6" font-size="13" fill="#3a3a3a" font-weight="normal" text-anchor="end" letter-spacing="0">$6b</text>
<text x="797.5" y="243.6" font-size="13" fill="#3a3a3a" font-weight="normal" text-anchor="start" letter-spacing="0">$6b</text>
<text x="127" y="219.5" font-size="13" fill="#3a3a3a" font-weight="normal" text-anchor="end" letter-spacing="0">$7b</text>
<text x="797.5" y="219.5" font-size="13" fill="#3a3a3a" font-weight="normal" text-anchor="start" letter-spacing="0">$7b</text>
<text x="127" y="194.5" font-size="13" fill="#3a3a3a" font-weight="normal" text-anchor="end" letter-spacing="0">$8b</text>
<text x="797.5" y="194.5" font-size="13" fill="#3a3a3a" font-weight="normal" text-anchor="start" letter-spacing="0">$8b</text>
<text x="127" y="170.0" font-size="13" fill="#3a3a3a" font-weight="normal" text-anchor="end" letter-spacing="0">$9b</text>
<text x="797.5" y="170.0" font-size="13" fill="#3a3a3a" font-weight="normal" text-anchor="start" letter-spacing="0">$9b</text>
<text x="127" y="145.6" font-size="13" fill="#3a3a3a" font-weight="normal" text-anchor="end" letter-spacing="0">$10b</text>
<text x="797.5" y="145.6" font-size="13" fill="#3a3a3a" font-weight="normal" text-anchor="start" letter-spacing="0">$10b</text>
<text x="127" y="120.5" font-size="13" fill="#3a3a3a" font-weight="normal" text-anchor="end" letter-spacing="0">$11b</text>
<text x="797.5" y="120.5" font-size="13" fill="#3a3a3a" font-weight="normal" text-anchor="start" letter-spacing="0">$11b</text>
<text x="127" y="95.60000000000001" font-size="13" fill="#3a3a3a" font-weight="normal" text-anchor="end" letter-spacing="0">$12b</text>
<text x="797.5" y="95.60000000000001" font-size="13" fill="#3a3a3a" font-weight="normal" text-anchor="start" letter-spacing="0">$12b</text>
<text x="95.8" y="39.1" font-size="12.2" fill="#4a4a4a" font-weight="normal" text-anchor="start" letter-spacing="0" stroke="#4a4a4a" stroke-width="0.15">FIGURE 1</text>
<text x="161" y="39.5" font-size="13" fill="#231f20" font-weight="bold" text-anchor="start" letter-spacing="-0.045" stroke="#231f20" stroke-width="0.4">CAPITAL EXPENDITURE TRENDS: ACTUALS AND ESTIMATES 2002–03 TO 2009–10</text>
<rect x="32.3" y="5.2" width="4.4" height="59" fill="#ffffff"/>
<text x="20" y="100" font-size="65" fill="#ffffff" font-weight="bold" transform="translate(17.5 10.7) scale(0.862 1) translate(-22 -54)">S</text>
<text x="177" y="240.5" font-size="10.5" fill="#ffffff" font-weight="normal" text-anchor="middle" letter-spacing="0" stroke="#ffffff" stroke-width="0.25">+10.1%</text>
<text x="256.45" y="240.5" font-size="10.5" fill="#ffffff" font-weight="normal" text-anchor="middle" letter-spacing="0" stroke="#ffffff" stroke-width="0.25">+0.1%</text>
<text x="335.2" y="233.5" font-size="10.5" fill="#ffffff" font-weight="normal" text-anchor="middle" letter-spacing="0" stroke="#ffffff" stroke-width="0.25">+4.1%</text>
<text x="415.8" y="208.3" font-size="10.5" fill="#ffffff" font-weight="normal" text-anchor="middle" letter-spacing="0" stroke="#ffffff" stroke-width="0.25">+15.9%</text>
<text x="492.1" y="155.89999999999998" font-size="12" fill="#1f3f73" font-weight="bold" text-anchor="middle" letter-spacing="0" stroke="#1f3f73" stroke-width="0.4">+22.8%</text>
<text x="571.7" y="145.5" font-size="10.5" fill="#ffffff" font-weight="normal" text-anchor="middle" letter-spacing="0" stroke="#ffffff" stroke-width="0.25">+5.2%</text>
<text x="649.4" y="138.6" font-size="10.5" fill="#ffffff" font-weight="normal" text-anchor="middle" letter-spacing="0" stroke="#ffffff" stroke-width="0.25">+3.0%</text>
<text x="730.8" y="132.8" font-size="11.5" fill="#231f20" font-weight="bold" text-anchor="middle" letter-spacing="0" stroke="#231f20" stroke-width="0.4">(–)5.6%</text>
<text x="311" y="135.0" font-size="14.4" fill="#ffffff" font-weight="bold" text-anchor="start" letter-spacing="0" stroke="#ffffff" stroke-width="0.3">4.6% GROWTH P.A.</text>
<text x="180.4" y="411.6" font-size="13" fill="#231f20" font-weight="bold" text-anchor="middle" letter-spacing="0" stroke="#231f20" stroke-width="0.4">2002–03</text>
<text x="180.4" y="423.5" font-size="10" fill="#3a3a3a" font-weight="normal" text-anchor="middle" letter-spacing="0">ACTUAL</text>
<text x="256.3" y="411.6" font-size="13" fill="#231f20" font-weight="bold" text-anchor="middle" letter-spacing="0" stroke="#231f20" stroke-width="0.4">2003–04</text>
<text x="256.3" y="423.5" font-size="10" fill="#3a3a3a" font-weight="normal" text-anchor="middle" letter-spacing="0">ACTUAL</text>
<text x="331.9" y="411.6" font-size="13" fill="#231f20" font-weight="bold" text-anchor="middle" letter-spacing="0" stroke="#231f20" stroke-width="0.4">2004–05</text>
<text x="331.9" y="423.5" font-size="10" fill="#3a3a3a" font-weight="normal" text-anchor="middle" letter-spacing="0">ACTUAL</text>
<text x="411.4" y="411.6" font-size="13" fill="#231f20" font-weight="bold" text-anchor="middle" letter-spacing="0" stroke="#231f20" stroke-width="0.4">2005–06</text>
<text x="411.4" y="423.5" font-size="10" fill="#3a3a3a" font-weight="normal" text-anchor="middle" letter-spacing="0">REVISED</text>
<text x="0" y="0" font-size="15.3" fill="#231f20" font-weight="bold" stroke="#231f20" stroke-width="0.45" text-anchor="middle" transform="translate(492 413.1) scale(1 0.93)">2006–07</text>
<text x="492" y="424.9" font-size="10.5" fill="#231f20" font-weight="bold" text-anchor="middle" letter-spacing="0" stroke="#231f20" stroke-width="0.4">BUDGET</text>
<text x="566.7" y="411.6" font-size="13" fill="#231f20" font-weight="bold" text-anchor="middle" letter-spacing="0" stroke="#231f20" stroke-width="0.4">2007–08</text>
<text x="566.7" y="423.5" font-size="10" fill="#3a3a3a" font-weight="normal" text-anchor="middle" letter-spacing="0">ESTIMATE</text>
<text x="651.4" y="411.6" font-size="13" fill="#231f20" font-weight="bold" text-anchor="middle" letter-spacing="0" stroke="#231f20" stroke-width="0.4">2008–09</text>
<text x="651.4" y="423.5" font-size="10" fill="#3a3a3a" font-weight="normal" text-anchor="middle" letter-spacing="0">ESTIMATE</text>
<text x="730.6" y="411.6" font-size="13" fill="#231f20" font-weight="bold" text-anchor="middle" letter-spacing="0" stroke="#231f20" stroke-width="0.4">2009–10</text>
<text x="730.6" y="423.5" font-size="10" fill="#3a3a3a" font-weight="normal" text-anchor="middle" letter-spacing="0">ESTIMATE</text>
</svg>
</body></html>
